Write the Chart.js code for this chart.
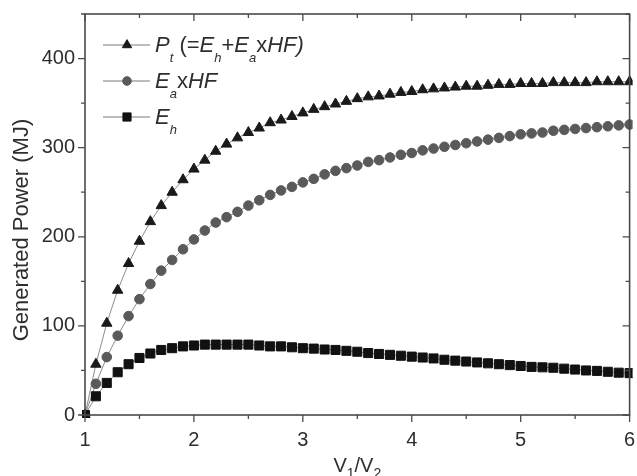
<!DOCTYPE html>
<html><head><meta charset="utf-8">
<script src="https://cdn.jsdelivr.net/npm/chart.js@4.4.1/dist/chart.umd.min.js"></script>
<style>html,body{margin:0;padding:0;background:#fff;overflow:hidden}#wrap{width:637px;height:476px;position:relative}</style>
</head><body><div id="wrap"><canvas id="c" width="637" height="476"></canvas></div>
<script>
// ---- data ----
const ratios = [1.0,1.1,1.2,1.3,1.4,1.5,1.6,1.7,1.8,1.9,
  2.0,2.1,2.2,2.3,2.4,2.5,2.6,2.7,2.8,2.9,
  3.0,3.1,3.2,3.3,3.4,3.5,3.6,3.7,3.8,3.9,
  4.0,4.1,4.2,4.3,4.4,4.5,4.6,4.7,4.8,4.9,
  5.0,5.1,5.2,5.3,5.4,5.5,5.6,5.7,5.8,5.9,6.0];
const ptValues = [0,57,103,140,170,195,217,235,250,264,
  276,286,296,304,311,317,322,328,331,335,
  339,343,346,349,352,355,357,358,360,362,
  363,365,366,367,368,369,369,370,371,371,
  372,372,372,373,373,373,373,374,374,374,374];
const eaHfValues = [0,35,65,89,111,130,147,162,174,186,
  197,207,216,222,228,235,241,247,252,256,
  261,265,270,274,277,280,284,286,289,292,
  294,297,299,301,303,305,307,309,311,313,
  315,316,317,319,320,321,322,323,324,325,326];
const ehValues = [0,21,36,48,57,64,69,73,75,77,
  78,79,79,79,79,79,78,77,77,76,
  75,74.5,73.5,73,72,71,69.5,68.5,67.5,66.5,
  65.5,64.5,63.5,62,61,60,59,58,57,56,
  55,54,53.5,53,52,51,50,49.5,48.5,47.5,47];
const xTickLabels = [1,2,3,4,5,6];
const xMinorTicks = [1.5,2.5,3.5,4.5,5.5];
const yTickLabels = [0,100,200,300,400];
const yMinorTicks = [50,150,250,350,450];
const seriesNames = ['Pt (=Eh+Ea xHF)','Ea xHF','Eh'];
const xTitle = 'V1/V2';
const yTitle = 'Generated Power (MJ)';

const FONT = "'Liberation Sans', Arial, sans-serif";
const AXIS = '#4a4a4a';
const TXT = '#2e2e2e';

function pts(vals){ return ratios.map((x,i)=>({x:x,y:vals[i]})); }

const styles = [
  {pointStyle:'triangle', radius:6, color:'#1a1a1a'},
  {pointStyle:'circle', radius:4.8, color:'#5a5a5a'},
  {pointStyle:'rect', radius:6.4, color:'#111111'}
];

const legendRich = [
  [{t:'P',i:1},{t:'t',i:1,s:1},{t:' (=',i:0},{t:'E',i:1},{t:'h',i:1,s:1},{t:'+',i:0},{t:'E',i:1},{t:'a',i:1,s:1},{t:'x',i:0},{t:'HF',i:1},{t:')',i:1}],
  [{t:'E',i:1},{t:'a',i:1,s:1},{t:'x',i:0},{t:'HF',i:1}],
  [{t:'E',i:1},{t:'h',i:1,s:1}]
];

function drawRich(ctx, segs, x, y, size, subSize, subDy){
  let cx = x;
  segs.forEach(s=>{
    const fs = s.s ? subSize : size;
    ctx.font = (s.i?'italic ':'') + fs + 'px ' + FONT;
    ctx.fillText(s.t, cx, y + (s.s?subDy:0));
    cx += ctx.measureText(s.t).width;
  });
  return cx - x;
}
function measureRich(ctx, segs, size, subSize){
  let w=0;
  segs.forEach(s=>{ctx.font=(s.i?'italic ':'')+(s.s?subSize:size)+'px '+FONT; w+=ctx.measureText(s.t).width;});
  return w;
}

const decor = {
  id:'decor',
  afterDraw(chart){
    const ctx = chart.ctx, a = chart.chartArea, xs = chart.scales.x, ys = chart.scales.y;
    ctx.save();
    ctx.strokeStyle = AXIS; ctx.lineWidth = 1.6;
    ctx.strokeRect(a.left, a.top, a.right-a.left, a.bottom-a.top);
    ctx.lineWidth = 1.3;
    const MAJ = 7, MIN = 4;
    ctx.beginPath();
    xTickLabels.forEach(v=>{const p=xs.getPixelForValue(v);
      ctx.moveTo(p,a.bottom); ctx.lineTo(p,a.bottom+MAJ);
      ctx.moveTo(p,a.top); ctx.lineTo(p,a.top+MAJ);});
    xMinorTicks.forEach(v=>{const p=xs.getPixelForValue(v);
      ctx.moveTo(p,a.bottom); ctx.lineTo(p,a.bottom+MIN);
      ctx.moveTo(p,a.top); ctx.lineTo(p,a.top+MIN);});
    yTickLabels.forEach(v=>{const p=ys.getPixelForValue(v);
      ctx.moveTo(a.left-MAJ,p); ctx.lineTo(a.left,p);
      ctx.moveTo(a.right-MAJ,p); ctx.lineTo(a.right,p);});
    yMinorTicks.forEach(v=>{const p=ys.getPixelForValue(v);
      ctx.moveTo(a.left-MIN,p); ctx.lineTo(a.left,p);
      ctx.moveTo(a.right-MIN,p); ctx.lineTo(a.right,p);});
    ctx.stroke();

    ctx.fillStyle = TXT; ctx.textBaseline = 'alphabetic'; ctx.textAlign = 'left';
    const rowY = [45, 81, 117];
    legendRich.forEach((segs,k)=>{
      const y = rowY[k];
      ctx.strokeStyle = '#7a7a7a'; ctx.lineWidth = 1;
      ctx.beginPath(); ctx.moveTo(103,y); ctx.lineTo(150,y); ctx.stroke();
      const st = styles[k];
      ctx.fillStyle = st.color; ctx.strokeStyle = st.color;
      Chart.helpers.drawPoint(ctx,{pointStyle:st.pointStyle, radius:st.radius*0.9, rotation:0, borderWidth:1}, 127, y);
      ctx.fillStyle = TXT;
      drawRich(ctx, segs, 155, y+7, 22, 13, 10);
    });

    const xt = [{t:'V',i:0},{t:'1',i:0,s:1},{t:'/V',i:0},{t:'2',i:0,s:1}];
    const w = measureRich(ctx, xt, 20, 14);
    const cxm = (a.left+a.right)/2;
    ctx.fillStyle = TXT;
    drawRich(ctx, xt, cxm - w/2, 472, 20, 14, 6);

    ctx.save();
    ctx.translate(28, 230);
    ctx.rotate(-Math.PI/2);
    ctx.font = '22px ' + FONT; ctx.textAlign='center'; ctx.textBaseline='alphabetic';
    ctx.fillStyle = TXT;
    ctx.fillText(yTitle, 0, 0);
    ctx.restore();
    ctx.restore();
  }
};

const mk = (label, vals, k) => ({
  label, data: pts(vals),
  borderColor:'#8c8c8c', borderWidth:1,
  pointStyle: styles[k].pointStyle, pointRadius: styles[k].radius,
  pointBackgroundColor: styles[k].color, pointBorderColor: styles[k].color, pointBorderWidth:1,
  tension:0, clip: 3
});

new Chart(document.getElementById('c'), {
  type:'line',
  data:{ datasets:[ mk(seriesNames[2], ehValues, 2), mk(seriesNames[1], eaHfValues, 1), mk(seriesNames[0], ptValues, 0) ] },
  options:{
    responsive:false, animation:false, devicePixelRatio:1,
    layout:{padding:{top:14,right:5,left:0,bottom:0}},
    plugins:{legend:{display:false}, tooltip:{enabled:false}},
    scales:{
      x:{type:'linear', min:1, max:6,
        grid:{display:false, drawTicks:false, tickLength:0}, border:{display:false},
        afterBuildTicks(s){ s.ticks = xTickLabels.map(v=>({value:v})); },
        afterFit(s){ s.height = 61; s.paddingLeft = 0; s.paddingRight = 0; },
        ticks:{font:{family:FONT,size:20}, color:TXT, padding:13, maxRotation:0}},
      y:{type:'linear', min:0, max:450,
        grid:{display:false, drawTicks:false, tickLength:0}, border:{display:false},
        afterBuildTicks(s){ s.ticks = yTickLabels.map(v=>({value:v})); },
        afterFit(s){ s.width = 85; s.paddingTop = 0; s.paddingBottom = 0; },
        ticks:{font:{family:FONT,size:20}, color:TXT, padding:10}}
    }
  },
  plugins:[decor]
});
</script></body></html>
